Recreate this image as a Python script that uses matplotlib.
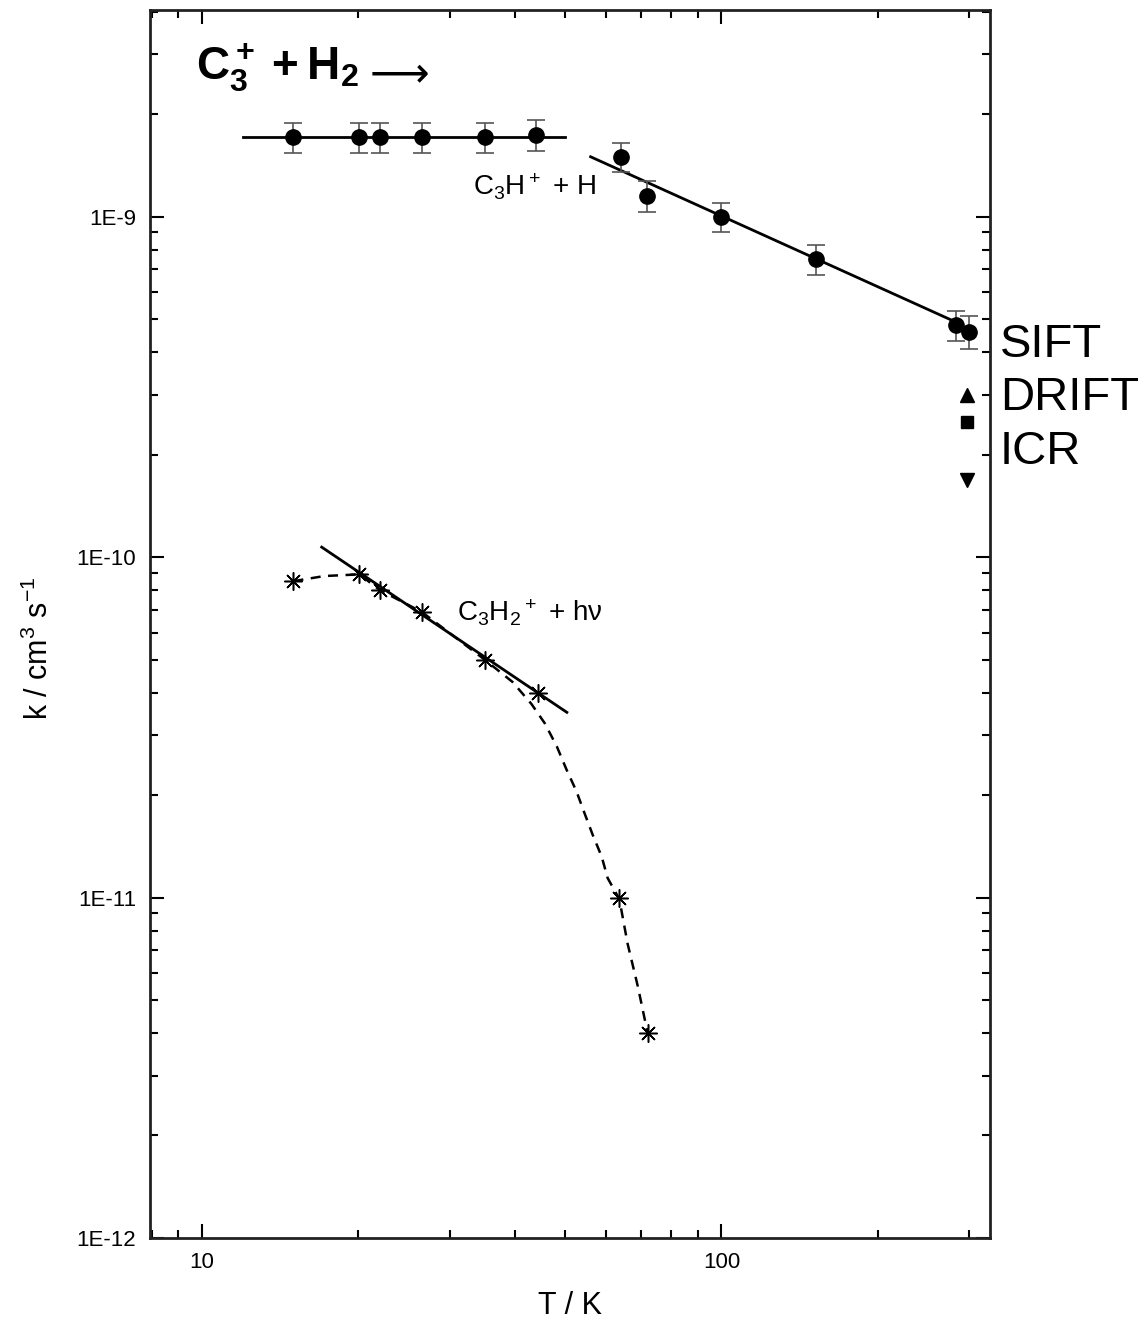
import numpy as np
import matplotlib
matplotlib.use('Agg')
import matplotlib.pyplot as plt
from matplotlib.ticker import FuncFormatter, LogLocator, NullFormatter

plt.rcParams['font.family'] = ['Liberation Sans', 'DejaVu Sans']
plt.rcParams['mathtext.fontset'] = 'custom'
plt.rcParams['mathtext.rm'] = 'Liberation Sans'
plt.rcParams['mathtext.bf'] = 'Liberation Sans:bold'
plt.rcParams['mathtext.default'] = 'regular'

# ------------------ data ------------------
# C3+ + H2 -> C3H+ + H, low temperature (flat part)
T_low = [15.0, 20.1, 22.0, 26.5, 35.0, 44.0]
k_low = [1.71e-9, 1.71e-9, 1.71e-9, 1.71e-9, 1.71e-9, 1.74e-9]
err_low = [0.17e-9, 0.17e-9, 0.17e-9, 0.17e-9, 0.17e-9, 0.18e-9]
fit_low_T = [12.0, 50.0]
fit_low_k = [1.71e-9, 1.71e-9]

# C3+ + H2 -> C3H+ + H, high temperature
T_high = [64.0, 72.0, 100.0, 152.0, 283.0, 300.0]
k_high = [1.50e-9, 1.15e-9, 1.0e-9, 7.5e-10, 4.8e-10, 4.6e-10]
err_high = [0.15e-9, 0.12e-9, 0.1e-9, 0.75e-10, 0.5e-10, 0.5e-10]
fit_high_T = [56.0, 283.0]
fit_high_k = [1.5e-9, 4.9e-10]

# other techniques at room temperature
T_room = 297.0
k_sift = 3.0e-10
k_drift = 2.5e-10
k_icr = 1.68e-10

# radiative association C3+ + H2 -> C3H2+ + hv
T_rad = [15.0, 20.1, 22.0, 26.5, 35.0, 44.3, 63.6, 72.1]
k_rad = [8.5e-11, 8.9e-11, 8.0e-11, 6.9e-11, 5.0e-11, 4.0e-11, 1.0e-11, 4.0e-12]
fit_rad_T = [17.0, 50.4]
fit_rad_k = [1.07e-10, 3.5e-11]
# dashed guide curve
curve_T = [15.0, 17.2, 20.1, 22.0, 26.5, 35.0, 39.6, 43.1, 45.7, 48.2, 50.3,
           52.6, 54.5, 56.5, 58.8, 60.4, 63.6, 66.0, 69.0, 72.1]
curve_k = [8.5e-11, 8.8e-11, 8.9e-11, 8.0e-11, 6.9e-11, 5.0e-11, 4.3e-11,
           3.7e-11, 3.25e-11, 2.78e-11, 2.38e-11, 2.05e-11, 1.77e-11,
           1.53e-11, 1.32e-11, 1.14e-11, 9.9e-12, 7.3e-12, 5.5e-12, 4.0e-12]

# ------------------ plot ------------------
fig = plt.figure(figsize=(11.43, 13.25), dpi=100)
ax = fig.add_axes([0.1312, 0.0657, 0.7350, 0.9268])

ax.plot(fit_low_T, fit_low_k, color='black', lw=2.0)
ax.plot(fit_high_T, fit_high_k, color='black', lw=2.0)
ax.errorbar(T_low, k_low, yerr=err_low, fmt='o', color='black', ms=11,
            ecolor='#555555', elinewidth=1.2, capsize=6.5, capthick=1.2)
ax.errorbar(T_high, k_high, yerr=err_high, fmt='o', color='black', ms=11,
            ecolor='#555555', elinewidth=1.2, capsize=6.5, capthick=1.2)

ax.plot(T_room, k_sift, '^', color='black', ms=10)
ax.plot(T_room, k_drift, 's', color='black', ms=8)
ax.plot(T_room, k_icr, 'v', color='black', ms=10)

ax.plot(curve_T, curve_k, color='black', lw=1.8, ls=(0, (4, 3)))
ax.plot(fit_rad_T, fit_rad_k, color='black', lw=2.0)
ax.plot(T_rad, k_rad, ls='none', marker=(8, 2, 0), color='black', ms=13, mew=1.1)

ax.set_xscale('log')
ax.set_yscale('log')
ax.set_xlim(7.94, 329)
ax.set_ylim(1e-12, 4.05e-9)

ax.yaxis.set_major_formatter(FuncFormatter(lambda v, p: '1E%d' % round(np.log10(v))))
ax.yaxis.set_minor_formatter(NullFormatter())
ax.xaxis.set_major_formatter(FuncFormatter(lambda v, p: '%d' % round(v)))
ax.xaxis.set_minor_locator(LogLocator(base=10, subs=np.arange(2, 10)))
ax.xaxis.set_minor_formatter(NullFormatter())
ax.yaxis.set_minor_locator(LogLocator(base=10, subs=np.arange(2, 10)))

ax.tick_params(which='both', direction='in', top=True, right=True, width=1.5)
ax.tick_params(which='major', length=10, labelsize=16, pad=10)
ax.tick_params(which='minor', length=6)
for s in ax.spines.values():
    s.set_linewidth(2.0)
    s.set_color('#222222')

ax.set_xlabel('T / K', fontsize=22)
ax.set_ylabel(r'k / cm$^3$ s$^{-1}$', fontsize=22)
ax.xaxis.set_label_coords(0.5, -0.043)
ax.yaxis.set_label_coords(-0.113, 0.48)

ax.text(0.055, 0.953, r'$\mathbf{C_3^+ + H_2}$', transform=ax.transAxes,
        fontsize=33, va='center', ha='left')
ax.text(0.262, 0.948, '⟶', transform=ax.transAxes, family='DejaVu Sans',
        fontsize=30, va='center', ha='left')
ax.text(0.385, 0.856, r'C$_3$H$^+$ + H', transform=ax.transAxes,
        fontsize=20, va='center', ha='left')
ax.text(0.365, 0.509, r'C$_3$H$_2$$^+$ + hν', transform=ax.transAxes,
        fontsize=20, va='center', ha='left')

fig.text(1000 / 1143, 1 - 345 / 1325, 'SIFT', fontsize=34, va='center')
fig.text(1000 / 1143, 1 - 398 / 1325, 'DRIFT', fontsize=34, va='center')
fig.text(1000 / 1143, 1 - 452 / 1325, 'ICR', fontsize=34, va='center')

fig.savefig('out.png', dpi=100)
